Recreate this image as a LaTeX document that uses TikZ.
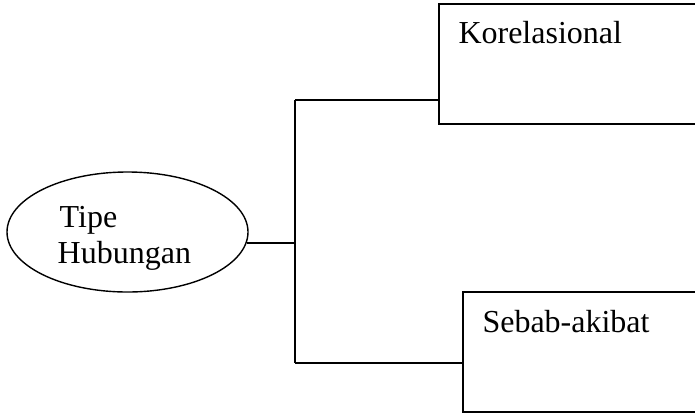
\documentclass[tikz,border=0pt]{standalone}
\usepackage{fontspec}
\setmainfont{Liberation Serif}
\usetikzlibrary{shapes.geometric,calc}
\begin{document}
\begin{tikzpicture}[x=1pt,y=-1pt,
  every node/.style={font=\fontsize{32}{36}\selectfont},
  line/.style={line width=1.4pt,black},
  oval/.style={ellipse,draw,line width=1.4pt,minimum width=241pt,minimum height=120pt,inner sep=0pt},
  box/.style={rectangle,draw,line width=1.4pt,inner sep=0pt},
  label/.style={anchor=base west,inner sep=0pt}
]
\clip (0,0) rectangle (695,413);
\useasboundingbox (0,0) rectangle (695,413);

% root ellipse and its two-line caption
\node[oval] (root) at (127.5,232) {};
\node[label] (tipe) at ($(root.center)+(-68,-5)$) {Tipe};
\node[label] (hub) at ($(root.center)+(-70,31)$) {Hubungan};

% category boxes (right edges run past the page)
\node[box,minimum width=270pt,minimum height=120pt] (kor) at (574,64) {};
\node[box,minimum width=250pt,minimum height=120pt] (seb) at (588,352) {};
\node[label] (korlbl) at ($(kor.north west)+(20,40)$) {Korelasional};
\node[label] (seblbl) at ($(seb.north west)+(20,41)$) {Sebab-akibat};

% branching connectors
\coordinate (jmid) at (295,243);
\coordinate (jtop) at (295,100);
\coordinate (jbot) at (295,363);
\draw[line] (jmid -| root.-5.3) -- (jmid);
\draw[line] (jtop) -- (jbot);
\draw[line] (jtop) -- (jtop -| kor.west);
\draw[line] (jbot) -- (jbot -| seb.west);
\end{tikzpicture}
\end{document}
